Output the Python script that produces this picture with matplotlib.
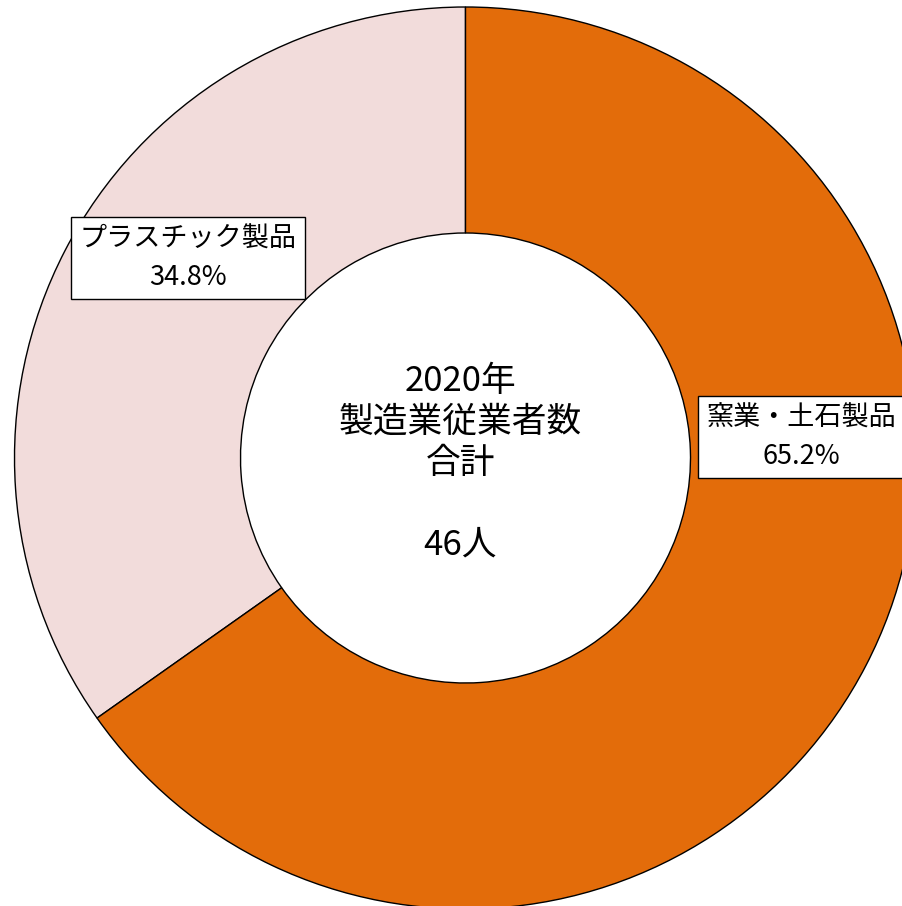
import matplotlib.pyplot as plt

plt.rcParams['font.family'] = ['Noto Sans CJK JP', 'DejaVu Sans']

labels = ['プラスチック製品', '窯業・土石製品']
counts = [16, 30]
colors = ['#F2DCDB', '#E36C0A']
title_lines = ['2020年', '製造業従業者数', '合計', '']

W, H = 902, 906
fig = plt.figure(figsize=(W / 100, H / 100), dpi=100)
ax = fig.add_axes([0, 0, 1, 1])

cx, cy = 465.5, H - 458
wedges, _ = ax.pie(counts, colors=colors, startangle=90, counterclock=True,
                   radius=451, center=(cx, cy),
                   wedgeprops=dict(width=226, edgecolor='black', linewidth=1.0))
# pie() resets the limits, so set the pixel frame afterwards
ax.set_xlim(0, W)
ax.set_ylim(0, H)
ax.set_aspect('equal')
ax.axis('off')

total = sum(counts)
pct = [c / total * 100 for c in counts]

box = dict(boxstyle='square,pad=0.3', facecolor='white', edgecolor='black', linewidth=1.0)
label_pos = [(188, H - 258), (801, H - 437)]
for (x, y), name, p in zip(label_pos, labels, pct):
    ax.text(x, y, f'{name}\n{p:.1f}%', ha='center', va='center', fontsize=19.5,
            linespacing=1.55, bbox=box)

ax.text(cx - 5, H - 463, '\n'.join(title_lines) + f'\n{total}人',
        ha='center', va='center', fontsize=25, linespacing=1.22)

fig.savefig('out.png', dpi=100)
